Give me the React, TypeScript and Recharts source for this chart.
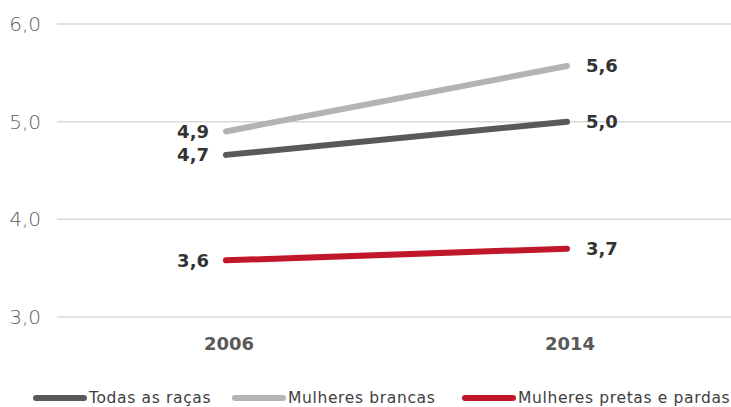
import { LineChart, Line, XAxis, YAxis, CartesianGrid, LabelList } from 'recharts';

const years = ['2006', '2014'];
const todas = [4.66, 5.0];
const brancas = [4.9, 5.57];
const pretas = [3.58, 3.7];
const yTicks = [3, 4, 5, 6];

const SERIES = [
    { key: 'todas', name: 'Todas as raças', color: '#595959' },
    { key: 'brancas', name: 'Mulheres brancas', color: '#b3b3b3' },
    { key: 'pretas', name: 'Mulheres pretas e pardas', color: '#c0182a' },
];

const data = years.map((year, i) => ({
    year,
    todas: todas[i],
    brancas: brancas[i],
    pretas: pretas[i],
}));

const FONT = '"DejaVu Sans", sans-serif';
const fmt = (v: number) => v.toFixed(1).replace('.', ',');

const PointLabel = (props: any) => {
    const { x, y, value, index } = props;
    const left = index === 0;
    return (
        <text
            x={left ? x - 17 : x + 19}
            y={y}
            dy="0.36em"
            textAnchor={left ? 'end' : 'start'}
            fontFamily={FONT}
            fontWeight={700}
            fontSize={18}
            fill="#333333"
        >
            {fmt(value)}
        </text>
    );
};

const legendItem = (s: { name: string; color: string }, left: number) => (
    <div key={s.name} style={{ position: 'absolute', left, top: 389, height: 18, display: 'flex', alignItems: 'center' }}>
        <span style={{ width: 54, height: 6, borderRadius: 3, background: s.color, marginRight: 2 }} />
        <span style={{ fontSize: 15.5, lineHeight: '18px', fontWeight: 400, letterSpacing: 0.65, color: '#404040', whiteSpace: 'nowrap' }}>
            {s.name}
        </span>
    </div>
);

export default function App() {
    return (
        <div style={{ position: 'fixed', top: 0, left: 0, width: 731, height: 407, overflow: 'hidden', fontFamily: FONT, background: '#fff' }}>
            <LineChart width={731} height={370} data={data} margin={{ top: 24, right: 0, left: 0, bottom: 13 }}>
                <CartesianGrid vertical={false} stroke="#d9d9d9" strokeWidth={1.5} />
                <XAxis
                    dataKey="year"
                    axisLine={false}
                    tickLine={false}
                    padding={{ left: 169, right: 164 }}
                    height={40}
                    tickMargin={14}
                    tick={{ fill: '#595959', fontSize: 18, fontWeight: 700, fontFamily: FONT, dx: 3 }}
                />
                <YAxis
                    domain={[3, 6]}
                    ticks={yTicks}
                    width={57}
                    axisLine={false}
                    tickLine={false}
                    tickMargin={10}
                    tickFormatter={fmt}
                    tick={{ fill: '#5e5e5e', fontSize: 20, fontWeight: 200, fontFamily: FONT }}
                />
                {SERIES.map((s) => (
                    <Line
                        key={s.key}
                        dataKey={s.key}
                        name={s.name}
                        stroke={s.color}
                        strokeWidth={6}
                        strokeLinecap="round"
                        dot={false}
                        activeDot={false}
                        isAnimationActive={false}
                    >
                        <LabelList dataKey={s.key} content={<PointLabel />} />
                    </Line>
                ))}
            </LineChart>
            {legendItem(SERIES[0], 33)}
            {legendItem(SERIES[1], 232)}
            {legendItem(SERIES[2], 462)}
        </div>
    );
}
